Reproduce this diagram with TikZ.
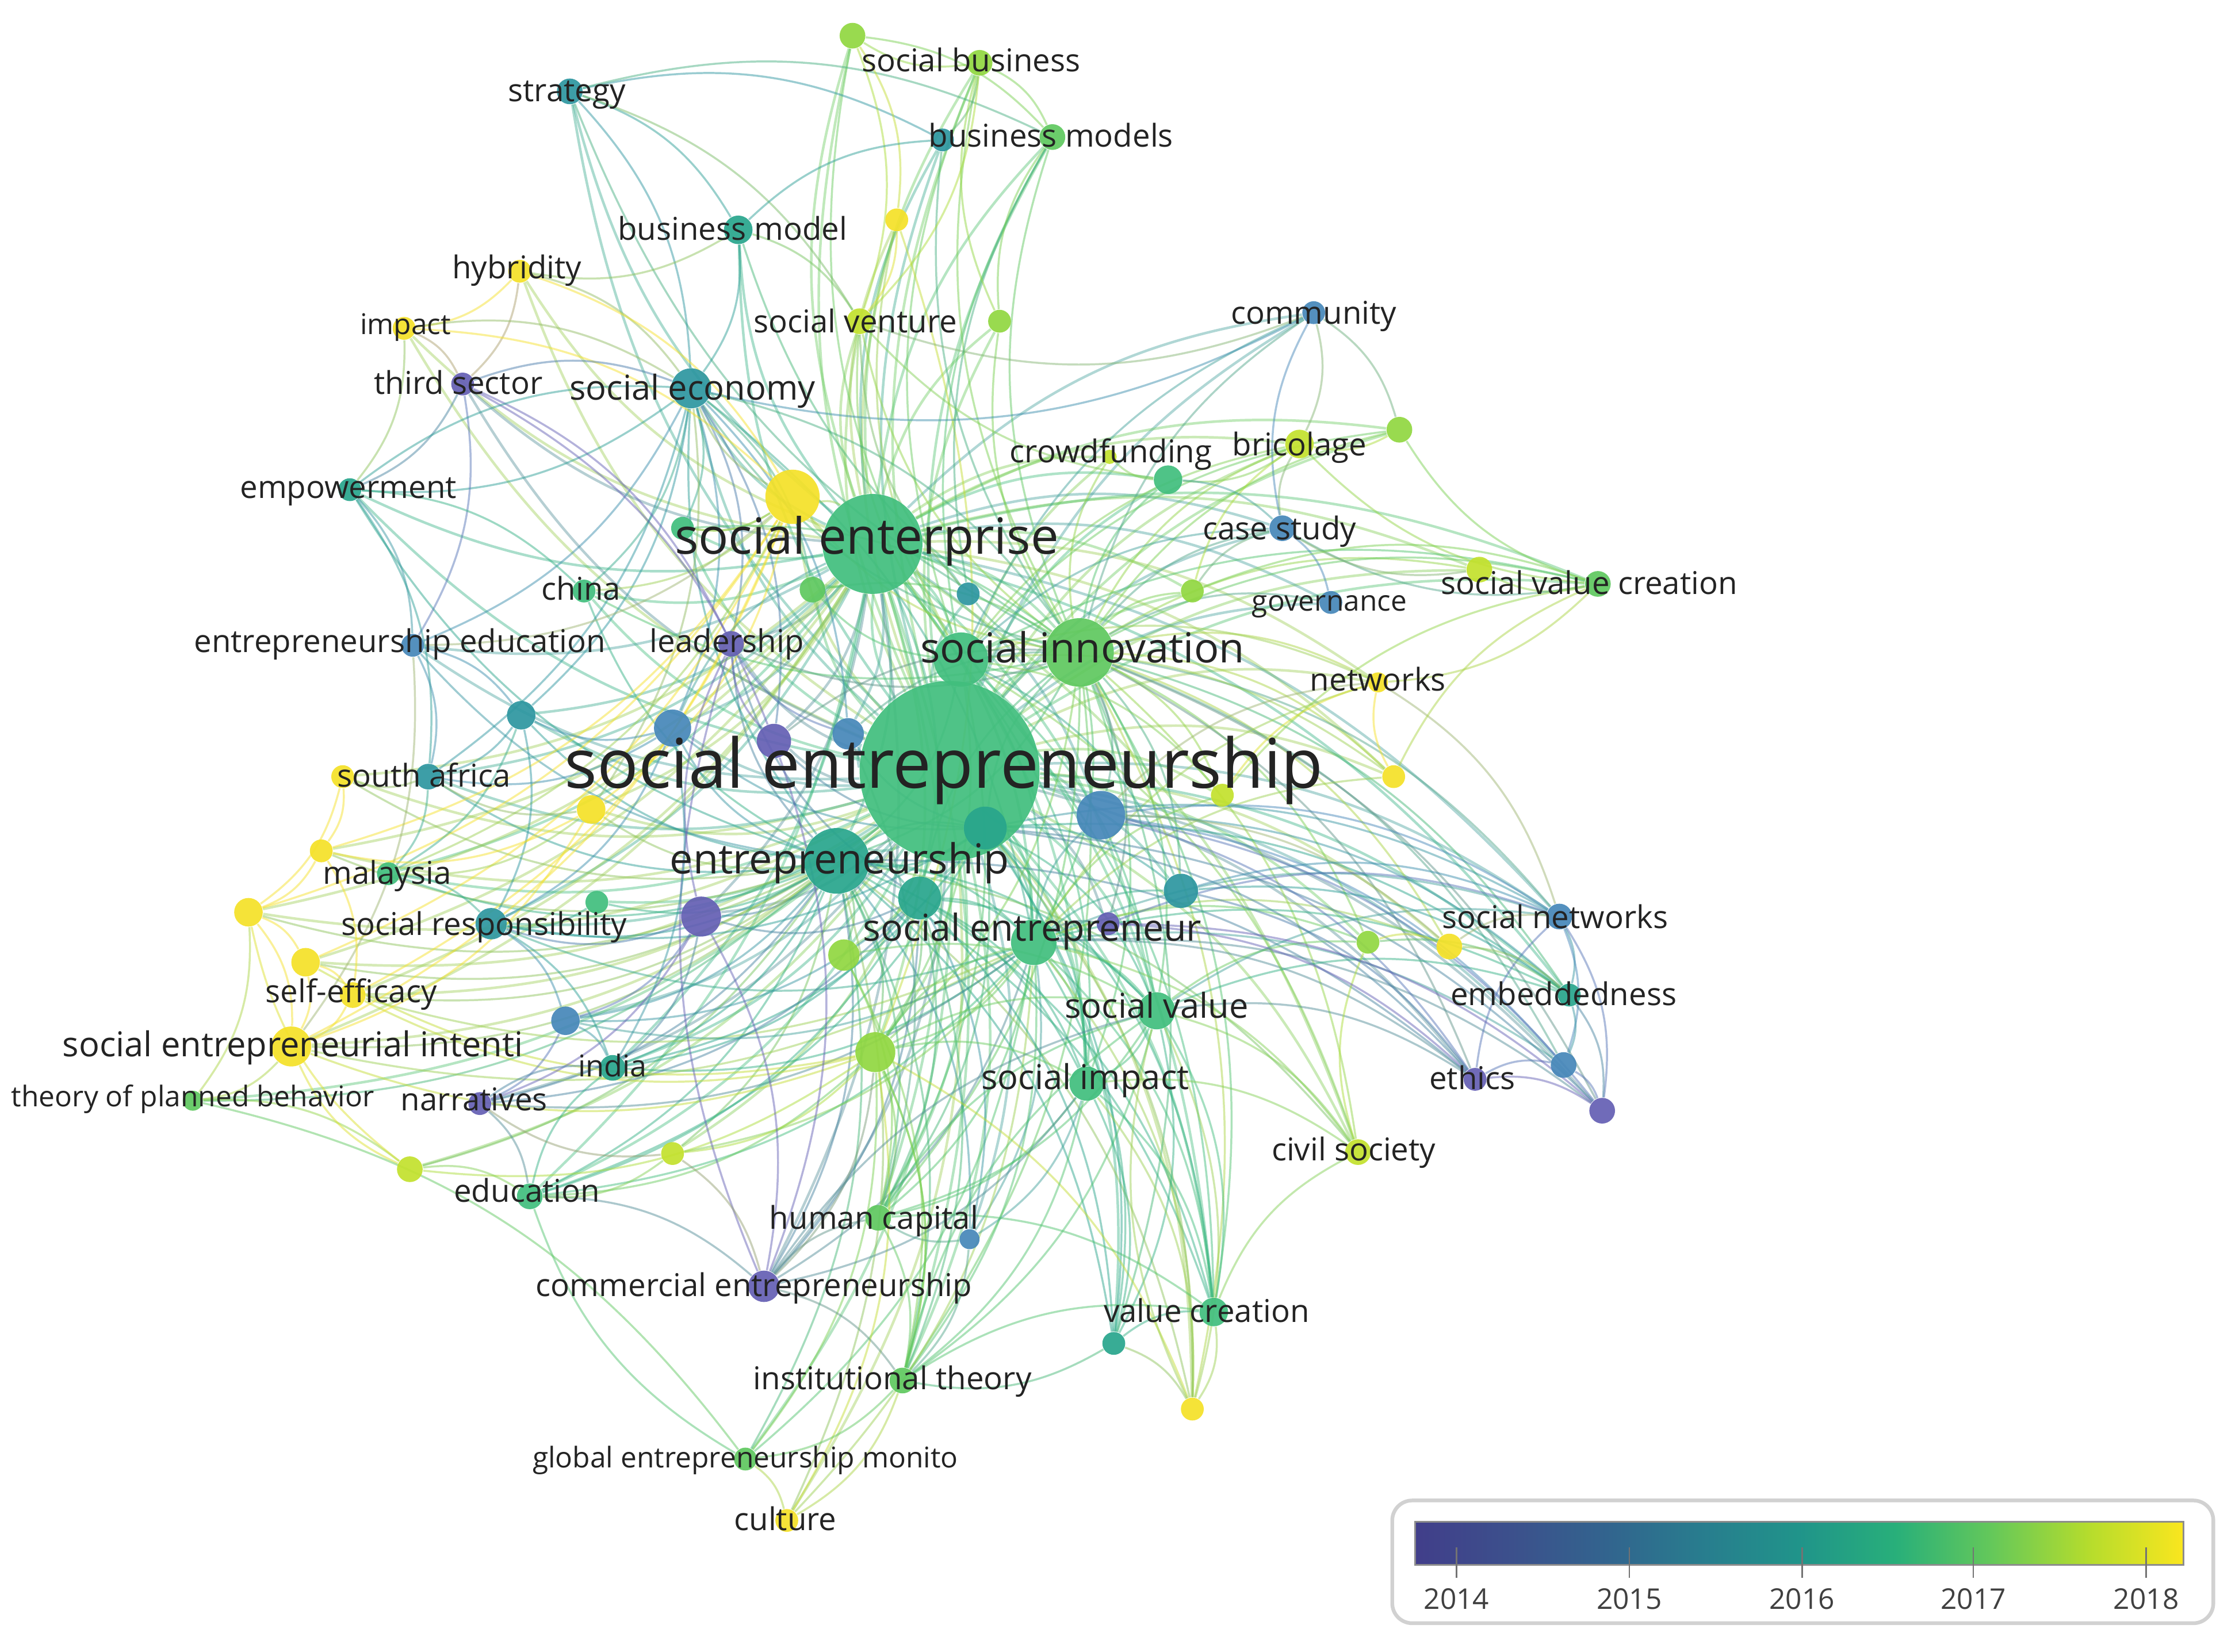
\documentclass[tikz,border=0pt]{standalone}
\usepackage{fontspec}
\setmainfont{Open Sans}
\pgfdeclarelayer{bg}
\pgfdeclarelayer{edges}
\pgfsetlayers{bg,edges,main}
\definecolor{c14}{RGB}{100,95,180}
\definecolor{c145}{RGB}{70,135,185}
\definecolor{c15}{RGB}{45,150,160}
\definecolor{c155}{RGB}{40,165,140}
\definecolor{c16}{RGB}{65,190,125}
\definecolor{c165}{RGB}{95,200,95}
\definecolor{c17}{RGB}{145,215,65}
\definecolor{c175}{RGB}{195,225,45}
\definecolor{c18}{RGB}{245,225,40}
\definecolor{txt}{RGB}{35,35,35}
\definecolor{vA}{RGB}{65,62,138}
\definecolor{vB}{RGB}{60,80,140}
\definecolor{vC}{RGB}{50,100,142}
\definecolor{vD}{RGB}{40,125,142}
\definecolor{vE}{RGB}{32,148,138}
\definecolor{vF}{RGB}{40,175,122}
\definecolor{vG}{RGB}{100,200,90}
\definecolor{vH}{RGB}{180,220,45}
\definecolor{vI}{RGB}{250,230,30}
\pgfdeclarehorizontalshading{viridis}{100bp}{color(0bp)=(vA); color(25bp)=(vA); color(31.25bp)=(vB); color(37.5bp)=(vC); color(43.75bp)=(vD); color(50bp)=(vE); color(56.25bp)=(vF); color(62.5bp)=(vG); color(68.75bp)=(vH); color(75bp)=(vI); color(100bp)=(vI)}
\newcommand\fzA{\fontsize{24}{28}\selectfont}
\newcommand\fzB{\fontsize{17.5}{20}\selectfont}
\newcommand\fzC{\fontsize{14.5}{17}\selectfont}
\newcommand\fzD{\fontsize{13}{15}\selectfont}
\newcommand\fzE{\fontsize{12}{14}\selectfont}
\newcommand\fzF{\fontsize{11}{13}\selectfont}
\newcommand\fzG{\fontsize{10}{12}\selectfont}
\begin{document}
\begin{tikzpicture}[x=0.5pt,y=-0.5pt,
  nd/.style={circle,inner sep=0pt,draw=none,fill opacity=0.92},
  lbl/.style={text=txt,inner sep=0pt,text height=0.95em,text depth=0.24em,font=\fzF},
  hubedge/.style={line width=0.9pt,draw opacity=0.42,bend left=18},
  edge/.style={line width=0.7pt,draw opacity=0.48,bend left=20}]
\begin{pgfonlayer}{bg}
\fill[white] (0,0) rectangle (1568,1157);
\end{pgfonlayer}
\useasboundingbox (0,0) rectangle (1568,1157);
% nodes
\foreach \nA/\xA/\yA/\dA/\cA in {
SE/665/540/63/c16, SEP/611/381/35/c16, SI/756/457/24/c165, SIb/673/462/19/c16,
E/586/603/23/c155, SR/724/660/16/c16, SEC/484/272/14/c15, SV/810/708/13/c16,
SIM/761/759/12/c16, Ya/555/348/19/c18, Ba/771/571/17/c145, Ta/690/580/15/c155,
Tb/644/629/15/c155, Tc/827/624/12/c15, Pa/491/642/14/c14, Pb/542/519/12/c14,
Bb/594/514/11/c145, Bc/471/510/13/c145, Td/365/501/10/c15, YGa/613/737/14/c17,
YGb/591/669/11/c17, Ga/418/632/8/c16, Pc/776/647/8/c14, YGc/958/660/8/c17,
Yb/1015/663/9/c18, Yc/976/544/8/c18, YGd/856/557/8/c175, Yd/414/567/10/c18,
Gb/569/413/9/c165, Te/678/416/8/c15, YGe/835/414/8/c17, Gc/478/370/8/c16,
Ye/628/154/8/c18, YGf/700/225/8/c17, YGg/597/25/9/c17, Tf/660/98/8/c15,
Gd/980/301/9/c17, Ge/818/336/10/c16, Yf/777/320/5/c175, YGh/1036/399/9/c175,
Yg/240/544/8/c18, Yh/225/596/8/c18, Yi/174/639/10/c18, Yj/214/674/10/c18,
Bd/396/715/10/c145, YGi/287/819/9/c175, YGj/471/808/8/c175, Be/679/868/7/c145,
Tg/780/941/8/c155, Yk/835/987/8/c18, Bf/1095/746/9/c145, Pd/1122/778/9/c14,
sbus/686/44/9/c17, strat/399/64/9/c15, bmods/737/96/9/c165, bmod/517/161/10/c155,
hyb/364/190/8/c18, imp/283/230/8/c18, sven/602/225/9/c175, comm/920/219/8/c145,
tsec/324/269/8/c14, bric/910/311/10/c175, emp/245/343/8/c155, case/898/370/9/c145,
china/409/414/8/c16, gov/932/422/8/c145, svc/1119/409/9/c165, eedu/289/452/8/c145,
lead/512/451/9/c14, netw/965/478/7/c18, safr/300/544/9/c15, mal/272/612/8/c16,
sresp/344/647/11/c15, snet/1092/642/9/c145, seff/247/697/9/c18, emb/1099/697/8/c155,
sei/204/733/14/c18, india/429/748/9/c155, ethics/1033/756/8/c14, tpb/135/771/7/c165,
narr/336/773/8/c14, civ/951/807/9/c175, edu/371/838/9/c16, hcap/615/853/9/c165,
cent/535/901/11/c14, vcre/850/919/10/c16, inst/632/967/9/c165, gem/522/1022/8/c165,
cult/551/1065/8/c18}
{
  \node[nd,fill=\cA,minimum size=\dA pt] (\nA) at (\xA,\yA) {};
  \xglobal\colorlet{k\nA}{\cA}
}
% edges
\begin{pgfonlayer}{edges}
\foreach \eB in {SEP,SI,SIb,E,SR,SEC,SV,SIM,Ya,Ba,Ta,Tb,Tc,Pa,Pb,Bb,Bc,Td,YGa,YGb,Ga,Pc,YGc,Yb,Yc,YGd,Yd,Gb,Te,YGe,Gc,Ye,YGf,YGg,Tf,Gd,Ge,Yf,YGh,Yg,Yh,Yi,Yj,Bd,YGi,YGj,Be,Tg,Yk,Bf,Pd,sbus,strat,bmods,bmod,hyb,imp,sven,comm,tsec,bric,emp,case,china,gov,svc,eedu,lead,netw,safr,mal,sresp,snet,seff,emb,sei,india,ethics,tpb,narr,civ,edu,hcap,cent,vcre,inst,gem,cult}
  \draw[hubedge,draw=kSE!50!k\eB] (SE) to (\eB);
\foreach \eB in {SI,SIb,E,SR,SEC,SV,SIM,Ya,Ba,Tb,Pa,Pb,Bb,Bc,Td,YGa,Gb,Te,YGe,Gc,Ye,YGf,YGg,Tf,Gd,Ge,Yf,YGh,Yc,Yd,sbus,strat,bmods,bmod,hyb,imp,sven,comm,tsec,bric,emp,case,china,gov,svc,eedu,lead,netw,safr,sresp,snet,emb,sei,india,civ,edu,hcap,cent,vcre,inst,Yg,mal,Yi,Yj,Yh,seff}
  \draw[hubedge,draw=kSEP!50!k\eB] (SEP) to (\eB);
\foreach \eB in {SIb,E,SR,SV,SIM,Ba,Tc,Pc,YGc,Yb,Yc,YGd,YGe,Te,Gd,Ge,Yf,YGh,sbus,bmods,sven,comm,bric,case,gov,svc,netw,snet,emb,civ,vcre,Tg,Yk,hcap,inst,SEC,strat,bmod,Bf,Pd,ethics,Ya,lead,china,YGf,Tf,YGa}
  \draw[edge,draw=kSI!50!k\eB] (SI) to (\eB);
\foreach \eB in {SR,SV,SIM,Ta,Tb,Pa,YGa,YGb,Ga,Yd,Bd,YGi,YGj,Be,Tg,Yk,Yg,Yh,Yi,Yj,sei,seff,tpb,mal,safr,sresp,india,narr,edu,eedu,cent,hcap,inst,gem,cult,vcre,china,lead,SEC,emp,ethics,civ,Td,Bc}
  \draw[edge,draw=kE!50!k\eB] (E) to (\eB);
\foreach \eB in {SV,SIM,vcre,Tg,Yk,hcap,inst,cent,Be,gem,cult,civ,ethics,snet,emb,Bf,Pd,YGc,Yb,Yc,netw,YGd,Tc,Pc,sresp,india,edu,narr,sei,seff,YGj,Bd,YGa,Ba}
  \draw[edge,draw=kSR!50!k\eB] (SR) to (\eB);
\foreach \eB in {SI,E,SR,sven,bmods,sbus,Gd,bric,case,svc,netw,Yc,YGd,Tc,SV,SIM,vcre,civ,Gb,YGa,hcap,YGg,Ye,comm}
  \draw[edge,draw=kSIb!50!k\eB] (SIb) to (\eB);
\foreach \eB in {SI,E,SR,SV,SIM,snet,emb,ethics,Tc,Bb,Bc,Pb,india,sresp,edu,hcap,vcre,Tg,Yk,Pd}
  \draw[edge,draw=kTa!50!k\eB] (Ta) to (\eB);
\foreach \eB in {SI,SR,SV,SIM,hcap,inst,cent,vcre,Tg,Be,india,edu,YGa,Pa,lead,Bd,narr}
  \draw[edge,draw=kTb!50!k\eB] (Tb) to (\eB);
\foreach \eB in {SR,SV,SIM,inst,gem,cult,hcap,edu,YGj,sei,seff,YGi,Yj,Yk}
  \draw[edge,draw=kYGa!50!k\eB] (YGa) to (\eB);
\foreach \eB in {Gc,lead,eedu,china,Td,Bc,Pb,Bb,Gb,emp,Yd,safr,SI,SR}
  \draw[edge,draw=kSEC!50!k\eB] (SEC) to (\eB);
\foreach \eB in {sei,Yi,Yj,Yh,seff,mal,Yd,eedu,SEP,china,Gc}
  \draw[edge,draw=kYa!50!k\eB] (Ya) to (\eB);
\foreach \eA/\eB in {SV/SIM,SV/vcre,SV/Tg,SV/Yk,SV/civ,SV/emb,SV/snet,SV/ethics,SV/YGc,SV/hcap,SV/inst,
SIM/vcre,SIM/Tg,SIM/Yk,SIM/civ,SIM/hcap,SIM/inst,SIM/cent,SIM/Be,
Ba/snet,Ba/emb,Ba/Bf,Ba/Pd,Ba/ethics,Ba/Yb,Ba/netw,
Pa/cent,Pa/narr,Pa/india,Pa/sresp,Pa/lead,Pa/Bd,
strat/bmod,strat/SEC,strat/Tf,strat/sven,strat/bmods,sbus/YGg,sbus/bmods,sbus/Tf,sbus/sven,
YGg/bmods,YGg/sven,YGg/Ye,Ye/sven,Ye/YGa,bmod/SEC,bmod/sven,bmod/Tf,bmod/hyb,
hyb/imp,hyb/tsec,hyb/SEC,hyb/Ya,imp/tsec,imp/Ya,imp/SEC,imp/emp,tsec/SEC,tsec/emp,
tsec/eedu,tsec/Pb,tsec/lead,emp/eedu,emp/safr,emp/SEC,emp/china,eedu/safr,eedu/Td,
eedu/sei,safr/mal,safr/Yg,Yg/Yh,Yh/Yi,Yi/Yj,Yj/sei,Yj/seff,seff/sei,sei/tpb,tpb/YGi,
YGi/edu,YGi/sei,Yi/sei,Yi/tpb,mal/sresp,sresp/india,sresp/Bd,Bd/india,Bd/narr,
narr/india,narr/edu,edu/india,edu/cent,cent/hcap,cent/inst,cent/lead,inst/gem,
gem/cult,inst/cult,hcap/inst,Tg/vcre,vcre/Yk,Yk/SV,vcre/civ,civ/YGc,snet/emb,
snet/Bf,snet/Pd,emb/Bf,emb/Pd,ethics/Bf,ethics/Pd,Bf/Pd,ethics/snet,netw/snet,
svc/YGh,svc/case,svc/bric,svc/Gd,svc/netw,YGh/case,case/gov,case/bric,case/comm,
comm/bric,comm/Gd,Gd/bric,comm/SEC,comm/sven,bric/Ge,Ge/Yf,Tc/ethics,Pc/ethics,
Pc/Pd,YGc/Yb,Yb/snet,Yc/svc,YGd/svc,Ya/SEC,Ya/Gc,Yd/safr,Yd/sei,Td/safr,Bc/Td,
Ga/sresp,YGa/cent,YGa/inst,YGj/edu,YGj/cent,gem/edu,tpb/gem,
Bc/safr,Bc/sresp,Bc/india,Td/sresp,Td/mal,Pb/lead,Pb/cent,Bb/lead,Bb/hcap,
Yd/Yh,Yd/mal,Yg/Yi,Yh/seff,YGi/Yi,YGj/narr,Be/hcap,Be/inst,Tg/Yk,Tg/inst,
YGb/SV,YGb/hcap,YGb/inst,Tc/snet,Tc/emb,YGc/emb,Yb/emb,Pc/snet,YGd/netw,Yc/netw,
hcap/SV,hcap/vcre,inst/vcre,inst/SV,cent/SV,Bc/SEP,Pb/SI,Bb/SI,Gb/SI,Gc/SI,
Te/sven,Te/bmods,YGe/bric,YGe/case,YGe/svc,Ge/case,Ge/sven,YGf/sbus,YGf/bmods}
  \draw[edge,draw=k\eA!50!k\eB] (\eA) to (\eB);
\end{pgfonlayer}
% labels
\node[lbl,font=\fzA] (lSE) at (661,545) {social entrepreneurship};
\node[lbl,font=\fzB] (lSEP) at (607,381) {social enterprise};
\node[lbl,font=\fzC] (lSI) at (758,457) {social innovation};
\node[lbl,font=\fzC] (lE) at (588,605) {entrepreneurship};
\node[lbl,font=\fzD] (lSR) at (723,652) {social entrepreneur};
\node[lbl,font=\fzE] (lSEC) at (485,273) {social economy};
\node[lbl,font=\fzE] (lSV) at (810,706) {social value};
\node[lbl,font=\fzE] (lSIM) at (760,756) {social impact};
\node[lbl,font=\fzE] (lsei) at (205,733) {social entrepreneurial intenti};
\node[lbl] (lsbus) at (680,43) {social business};
\node[lbl] (lstrat) at (397,64) {strategy};
\node[lbl] (lbmods) at (736,96) {business models};
\node[lbl] (lbmod) at (513,161) {business model};
\node[lbl] (lhyb) at (362,188) {hybridity};
\node[lbl] (lsven) at (599,226) {social venture};
\node[lbl] (lcomm) at (920,220) {community};
\node[lbl] (ltsec) at (321,269) {third sector};
\node[lbl] (lcrowd) at (778,317) {crowdfunding};
\node[lbl] (lbric) at (910,312) {bricolage};
\node[lbl] (lemp) at (244,342) {empowerment};
\node[lbl] (lcase) at (896,371) {case study};
\node[lbl] (lchina) at (407,413) {china};
\node[lbl] (lsvc) at (1113,409) {social value creation};
\node[lbl] (leedu) at (280,450) {entrepreneurship education};
\node[lbl] (llead) at (509,450) {leadership};
\node[lbl] (lnetw) at (965,477) {networks};
\node[lbl] (lsafr) at (297,544) {south africa};
\node[lbl] (lmal) at (271,612) {malaysia};
\node[lbl] (lsresp) at (339,648) {social responsibility};
\node[lbl] (lsnet) at (1089,643) {social networks};
\node[lbl] (lseff) at (246,695) {self-efficacy};
\node[lbl] (lemb) at (1095,697) {embeddedness};
\node[lbl,font=\fontsize{10.5}{12}\selectfont] (lindia) at (429,747) {india};
\node[lbl] (lethics) at (1031,756) {ethics};
\node[lbl] (lnarr) at (332,771) {narratives};
\node[lbl] (lciv) at (948,806) {civil society};
\node[lbl] (ledu) at (369,835) {education};
\node[lbl] (lhcap) at (612,854) {human capital};
\node[lbl] (lcent) at (528,901) {commercial entrepreneurship};
\node[lbl] (lvcre) at (845,919) {value creation};
\node[lbl] (linst) at (625,966) {institutional theory};
\node[lbl] (lcult) at (550,1065) {culture};
\node[lbl,font=\fzG] (limp) at (284,227) {impact};
\node[lbl,font=\fzG] (lgov) at (931,421) {governance};
\node[lbl,font=\fzG] (ltpb) at (135,768) {theory of planned behavior};
\node[lbl,font=\fzG] (lgem) at (522,1021) {global entrepreneurship monito};
% colour bar
\draw[draw=black!18,line width=1.3pt,rounded corners=7pt] (975,1051) rectangle (1550,1137);
\shade[shading=viridis] (991,1066) rectangle (1529,1096);
\draw[draw=black!45,line width=0.6pt] (991,1066) rectangle (1529,1096);
\foreach \xT/\yT in {1020/2014,1141/2015,1262/2016,1382/2017,1503/2018}{
  \draw[black!55,line width=0.5pt] (\xT,1084) -- (\xT,1105);
  \node[text=black!75,inner sep=0pt,font=\fontsize{10}{12}\selectfont] (yr\yT) at (\xT,1120) {\yT};
}
\end{tikzpicture}
\end{document}
